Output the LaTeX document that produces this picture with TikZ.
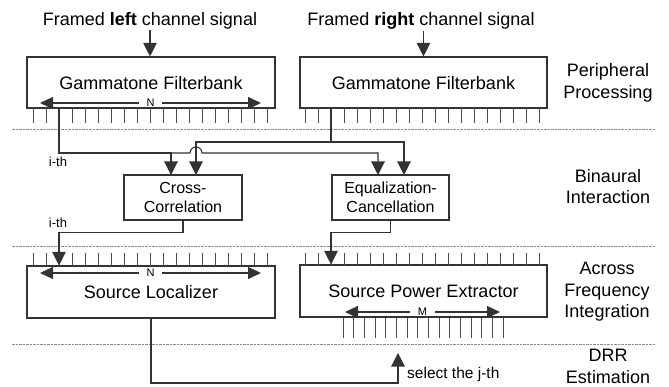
\documentclass[tikz,border=0pt]{standalone}
\usepackage{fontspec}
\setmainfont{Liberation Sans}
\usetikzlibrary{arrows.meta}

\begin{document}
\begin{tikzpicture}[x=1pt, y=-1pt,
    line/.style={draw=black!80, line width=1.1pt},
    tick/.style={draw=black!70, line width=0.9pt},
    sep/.style={draw=black!45, line width=0.9pt, dash pattern=on 2.5pt off 1pt},
    bigbox/.style={line, inner sep=0pt, minimum width=248pt, minimum height=51pt,
        text depth=0pt, font=\fontsize{18}{21}\selectfont},
    midbox/.style={line, inner sep=0pt, minimum width=118pt, minimum height=45pt,
        align=center, font=\fontsize{16}{19}\selectfont},
    lvl/.style={align=center, inner sep=0pt, font=\fontsize{18}{21.5}\selectfont},
    small/.style={inner sep=0pt, font=\fontsize{13}{15}\selectfont},
    nlbl/.style={fill=white, inner xsep=8pt, inner ysep=0.3pt, font=\fontsize{11}{12}\selectfont},
    both/.style={line, {Triangle[length=13pt, width=12pt]}-{Triangle[length=13pt, width=12pt]}},
    >={Triangle[length=13.5pt, width=13.5pt]}]
\useasboundingbox (0,0) rectangle (669,387);

% level separators
\foreach \y in {129,246,344}
    \draw[sep] (12,\y) -- (656,\y);

% input signals
\node[anchor=base, inner sep=0.5pt, font=\fontsize{18}{21}\selectfont] (srcL) at (150,26)
    {Framed \textbf{left} channel signal};
\node[anchor=base, inner sep=0.5pt, font=\fontsize{18}{21}\selectfont] (srcR) at (421,26)
    {Framed \textbf{right} channel signal};

% blocks
\node[bigbox] (gfbL) at (151,82.5) {Gammatone Filterbank};
\node[bigbox, minimum width=247pt] (gfbR) at (423.5,82.5) {Gammatone Filterbank};
\node[midbox] (cc) at (183,197.5) {Cross-\\Correlation};
\node[midbox, minimum width=117pt] (ec) at (390.5,197.5) {Equalization-\\Cancellation};
\node[bigbox, minimum height=52pt] (loc) at (151,292) {Source Localizer};
\node[bigbox, minimum width=247pt, minimum height=52pt] (spe) at (423.5,291) {Source Power Extractor};

% stage names
\node[lvl] (lvA) at (608,83) {Peripheral\\Processing};
\node[lvl] (lvB) at (608,186.5) {Binaural\\Interaction};
\node[lvl] (lvC) at (607,292) {Across\\Frequency\\Integration};
\node[lvl] (lvD) at (608,366.5) {DRR\\Estimation};

% channel ticks
\foreach \x in {0,...,18} {
    \draw[tick] (33+13*\x,108) -- ++(0,15);
    \draw[tick] (305+13.05*\x,108) -- ++(0,15);
    \draw[tick] (33+13*\x,253) -- ++(0,13);
    \draw[tick] (305+13.05*\x,253) -- ++(0,13);
}
\foreach \x in {0,...,15}
    \draw[tick] (343+10.67*\x,318) -- ++(0,20);

% channel counts
\draw[both] (40,103) -- node[nlbl] (nA) {N} (261,103);
\draw[both] (40,273) -- node[nlbl] (nB) {N} (261,273);
\draw[both] (345,312) -- node[nlbl] (nC) {M} (500,312);

% taps and inputs
\coordinate (iL) at (59,108);
\coordinate (iR) at (331,108);
\coordinate (ccA) at (171,175);
\coordinate (ccB) at (196,175);
\coordinate (ecA) at (378,175);
\coordinate (ecB) at (404,175);
\coordinate (jSel) at (398,353);

\draw[line, ->] (srcL.south) -- (srcL.south |- gfbL.north);
\draw[line, ->] (gfbR.north |- srcR.south) -- (gfbR.north);

\draw[line, ->] (iL) |- (ccA |- 0,153) -- (ccA);
\draw[line, ->] (ccA |- 0,153) -- (190,153) arc[start angle=180, end angle=0, radius=6pt]
    -- (ecA |- 0,153) -- (ecA);
\draw[line, ->] (iR) |- (ccB |- 0,142) -- (ccB);
\draw[line, ->] (iR) |- (ecB |- 0,142) -- (ecB);

\draw[line, ->] (cc.south) -- ++(0,12) -| (iL |- loc.north);
\draw[line, ->] (ec.south) -- ++(0,12) -| (iR |- spe.north);
\draw[line, ->] (loc.south) |- (jSel |- 0,383) -- (jSel);

\node[small] (ithA) at (58,162) {i-th};
\node[small] (ithB) at (58,223) {i-th};
\node[anchor=base west, inner sep=0pt, font=\fontsize{15.5}{18}\selectfont] (jth) at (407,378)
    {select the j-th};
\end{tikzpicture}
\end{document}
